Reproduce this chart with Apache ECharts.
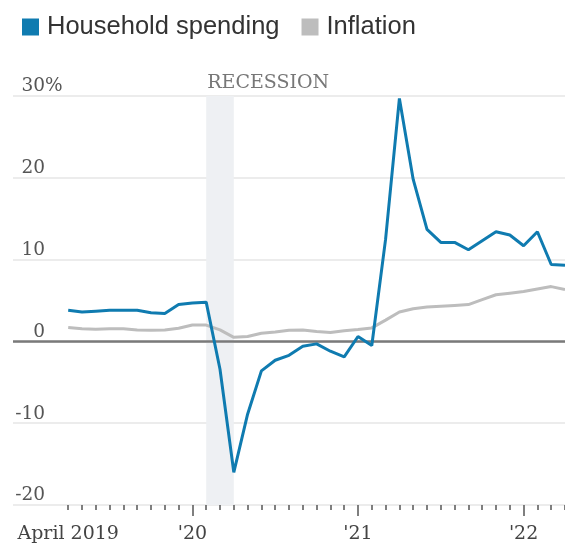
<!DOCTYPE html>
<html>
<head>
<meta charset="utf-8">
<script src="https://cdn.jsdelivr.net/npm/echarts@6/dist/echarts.min.js"></script>
<style>
  html, body { margin: 0; padding: 0; background: #fff; }
  #chart { width: 565px; height: 546px; }
</style>
</head>
<body>
<div id="chart"></div>
<script>
// monthly, year-over-year change
var months = [
  "2019-04", "2019-05", "2019-06", "2019-07", "2019-08", "2019-09", "2019-10", "2019-11", "2019-12",
  "2020-01", "2020-02", "2020-03", "2020-04", "2020-05", "2020-06", "2020-07", "2020-08", "2020-09",
  "2020-10", "2020-11", "2020-12",
  "2021-01", "2021-02", "2021-03", "2021-04", "2021-05", "2021-06", "2021-07", "2021-08", "2021-09",
  "2021-10", "2021-11", "2021-12",
  "2022-01", "2022-02", "2022-03", "2022-04"
];
var spending = [
  3.8, 3.6, 3.7, 3.8, 3.8, 3.8, 3.5, 3.4, 4.5,
  4.7, 4.8, -3.4, -16.0, -8.9, -3.6, -2.3, -1.7, -0.6,
  -0.3, -1.2, -1.9,
  0.6, -0.5, 12.5, 29.7, 19.8, 13.7, 12.1, 12.1, 11.2,
  12.3, 13.4, 13.0,
  11.7, 13.4, 9.4, 9.3
];
var inflation = [
  1.7, 1.55, 1.5, 1.55, 1.55, 1.4, 1.35, 1.4, 1.6,
  2.0, 2.0, 1.4, 0.5, 0.6, 1.0, 1.15, 1.35, 1.4,
  1.2, 1.1, 1.3,
  1.45, 1.65, 2.6, 3.6, 4.0, 4.2, 4.3, 4.4, 4.5,
  5.1, 5.7, 5.9,
  6.1, 6.4, 6.7, 6.35
];
var labelMonths = ["2019-04", "2020-01", "2021-01", "2022-01"];
var labelTexts = ["April 2019", "'20", "'21", "'22"];
var recession = ["2020-02", "2020-04"];

var BLUE = "#0f7bb0";
var GREY = "#bdbdbd";
var SERIF = "DejaVu Serif";

function pairs(vals) {
  return vals.map(function (v, i) { return [i, v]; });
}

var allTicks = months.map(function (m, i) { return i; });
var yearTicks = labelMonths.slice(1).map(function (m) { return months.indexOf(m); });
var labelIdx = labelMonths.map(function (m) { return months.indexOf(m); });

var chart = echarts.init(document.getElementById("chart"));

chart.setOption({
  animation: false,
  legend: {
    left: 17,
    top: 9,
    icon: "rect",
    itemWidth: 17,
    itemHeight: 17,
    itemGap: 22,
    textStyle: {
      fontFamily: "Liberation Sans",
      fontSize: 25.5,
      color: "#333",
      padding: [0, 0, 0, 3]
    },
    data: ["Household spending", "Inflation"]
  },
  grid: { left: 13, top: 96, width: 554, height: 409 },
  xAxis: [
    {
      type: "value",
      min: -4,
      max: 36,
      position: "bottom",
      axisLine: { show: false, onZero: false },
      splitLine: { show: false },
      axisTick: {
        customValues: allTicks,
        length: 5,
        lineStyle: { color: "#555", width: 1.5 }
      },
      axisLabel: {
        customValues: labelIdx,
        margin: 20,
        fontFamily: SERIF,
        fontSize: 19,
        color: "#444",
        formatter: function (v) {
          return labelTexts[labelIdx.indexOf(v)];
        }
      }
    },
    {
      // longer ticks at January
      type: "value",
      min: -4,
      max: 36,
      position: "bottom",
      axisLine: { show: false, onZero: false },
      splitLine: { show: false },
      axisTick: {
        customValues: yearTicks,
        length: 11,
        lineStyle: { color: "#555", width: 1.5 }
      },
      axisLabel: { show: false }
    }
  ],
  yAxis: {
    type: "value",
    min: -20,
    max: 30,
    interval: 10,
    axisLine: { show: false, onZero: false },
    axisTick: { show: false },
    splitLine: { lineStyle: { color: "#e6e6e6", width: 1.5 } },
    axisLabel: {
      inside: true,
      margin: 2,
      align: "left",
      verticalAlign: "bottom",
      fontFamily: SERIF,
      fontSize: 18.5,
      color: "#555",
      formatter: function (v) {
        return "{n|" + v + "}" + (v === 30 ? "{p|%}" : "");
      },
      rich: {
        n: { width: 30, align: "right", fontFamily: SERIF, fontSize: 18.5, color: "#555" },
        p: { align: "right", fontFamily: SERIF, fontSize: 18.5, color: "#555" }
      }
    }
  },
  series: [
    {
      name: "Inflation",
      type: "line",
      xAxisIndex: 0,
      data: pairs(inflation),
      showSymbol: false,
      color: GREY,
      lineStyle: { color: GREY, width: 3 },
      markArea: {
        silent: true,
        z: 1,
        itemStyle: { color: "#eef0f3" },
        label: {
          show: true,
          position: [1, -22],
          fontFamily: SERIF,
          fontSize: 19,
          color: "#777"
        },
        data: [[
          { name: "RECESSION", xAxis: months.indexOf(recession[0]) },
          { xAxis: months.indexOf(recession[1]) }
        ]]
      },
      markLine: {
        silent: true,
        z: 1.5,
        symbol: "none",
        label: { show: false },
        lineStyle: { color: "#7a7a7a", width: 2.5, type: "solid" },
        data: [{ yAxis: 0 }]
      }
    },
    {
      name: "Household spending",
      type: "line",
      xAxisIndex: 0,
      data: pairs(spending),
      showSymbol: false,
      color: BLUE,
      lineStyle: { color: BLUE, width: 3 }
    }
  ]
});
</script>
</body>
</html>
